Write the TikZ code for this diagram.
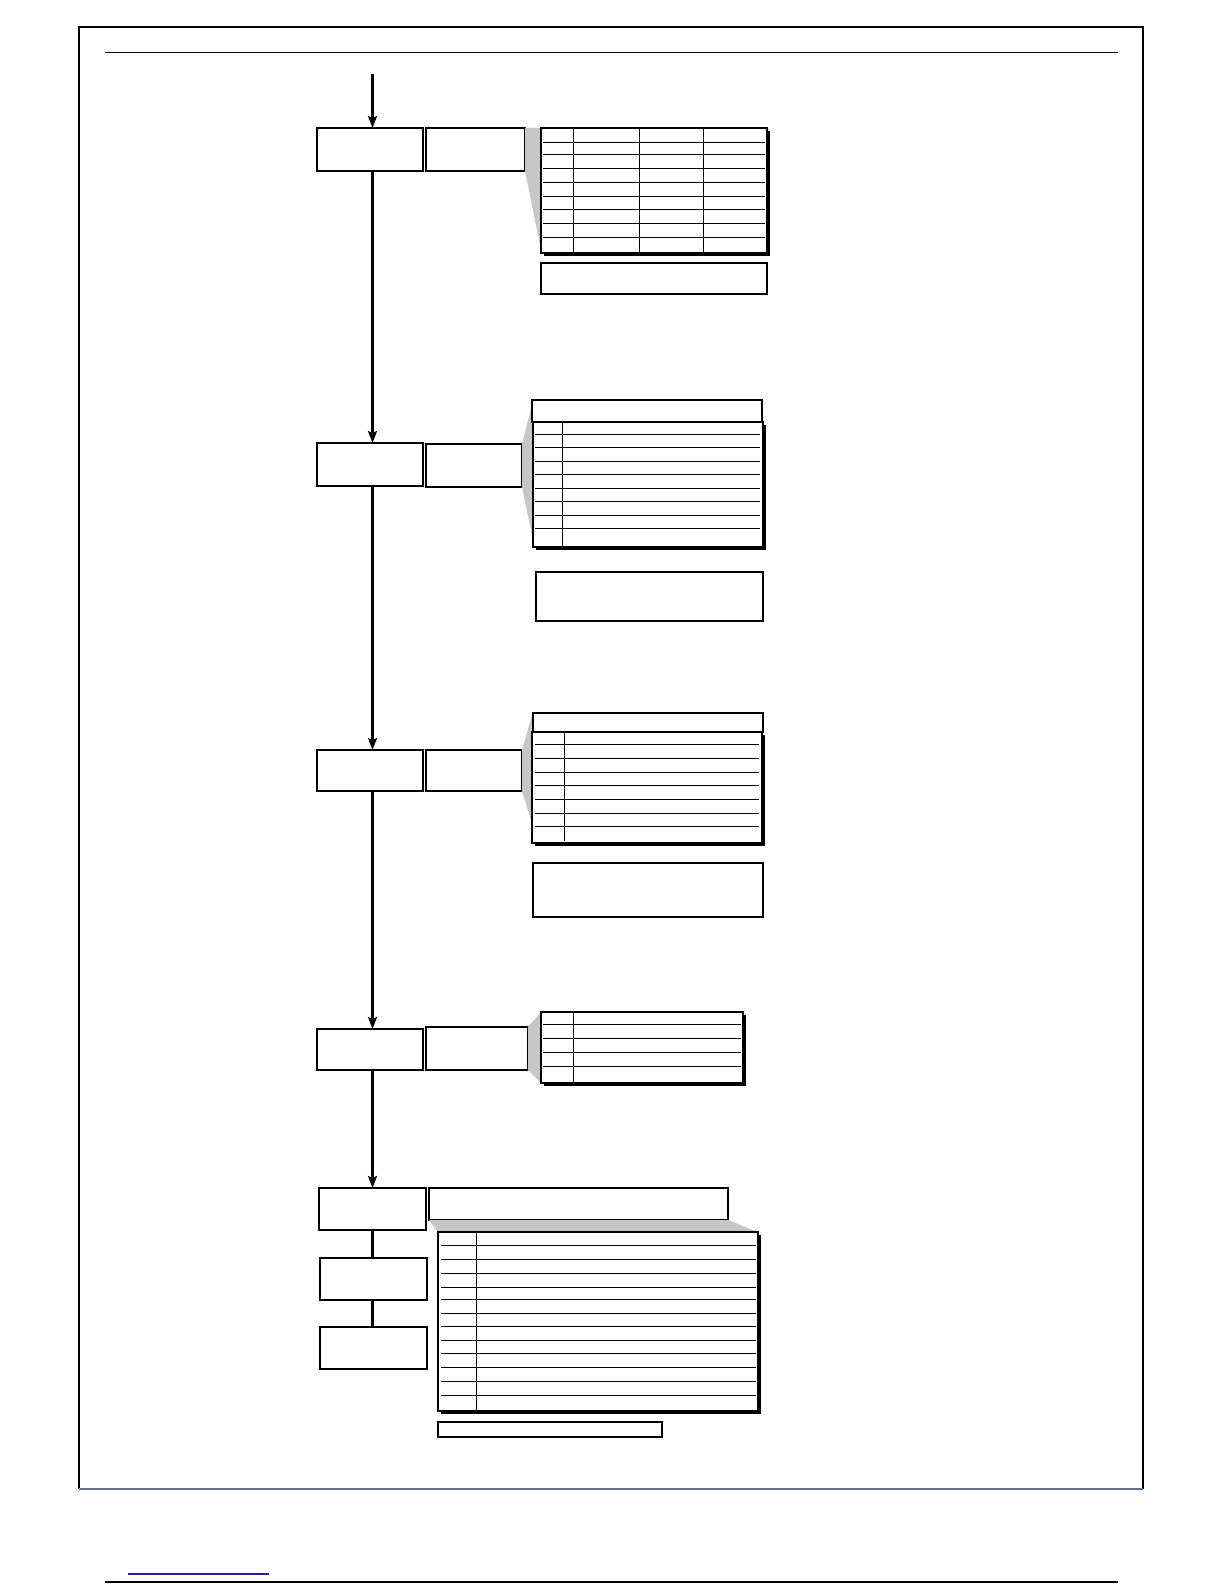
\documentclass[tikz,border=0pt]{standalone}
\usetikzlibrary{arrows.meta,shadows}
\definecolor{slate}{RGB}{100,112,135}
\definecolor{navy}{RGB}{30,30,140}

\begin{document}
\begin{tikzpicture}[x=1pt,y=-1pt,
                    stage/.style={draw,line width=1.1pt,inner sep=0pt,outer sep=0pt,anchor=north west,fill=white},
                    sheet/.style={stage,drop shadow={shadow xshift=3pt,shadow yshift=-3pt,fill=black,opacity=1}},
                    rule/.style={line width=1pt},
                    wedge/.style={fill=gray!45,draw=none},
                    flow/.style={line width=2.2pt,-{Stealth[length=12pt,width=9pt,inset=2pt]}}]
\useasboundingbox (0,0) rectangle (1224,1584);

% page frame
\draw[line width=2pt] (79,1489) -- (79,27) -- (1143,27) -- (1143,1489);
\draw[line width=1.5pt,slate] (79,1489) -- (1143,1489);
\draw[line width=1.2pt] (105,52.5) -- (1118,52.5);
\draw[line width=1.2pt] (105,1582) -- (1118,1582);
\draw[line width=1.5pt,navy] (128,1574) -- (269,1574);

% stage boxes
\coordinate (entry) at (372.5,74);
\node[stage,minimum width=106pt,minimum height=43pt] (s1) at (317,128) {};
\node[stage,minimum width=99pt,minimum height=43pt] (i1) at (426,128) {};
\node[stage,minimum width=106pt,minimum height=43pt] (s2) at (317,443) {};
\node[stage,minimum width=96pt,minimum height=43pt] (i2) at (426,444) {};
\node[stage,minimum width=106pt,minimum height=41pt] (s3) at (317,750) {};
\node[stage,minimum width=96pt,minimum height=41pt] (i3) at (426,750) {};
\node[stage,minimum width=106pt,minimum height=41pt] (s4) at (317,1029) {};
\node[stage,minimum width=102pt,minimum height=43pt] (i4) at (426,1027) {};
\node[stage,minimum width=107pt,minimum height=42pt] (s5) at (319,1188) {};
\node[stage,minimum width=299pt,minimum height=32pt] (i5) at (429,1188) {};
\node[stage,minimum width=107pt,minimum height=42pt] (s6) at (320,1258) {};
\node[stage,minimum width=107pt,minimum height=42pt] (s7) at (320,1327) {};

% grey wedges
\fill[wedge] (i1.north east) -- (541,128) -- (541,250) -- (i1.south east) -- cycle;
\fill[wedge] (i2.north east) -- (532,405) -- (533,540) -- (i2.south east) -- cycle;
\fill[wedge] (i3.north east) -- (532,715) -- (532,823) -- (i3.south east) -- cycle;
\fill[wedge] (i4.north east) -- (541,1012) -- (541,1083) -- (i4.south east) -- cycle;
\fill[wedge] (i5.south west) -- (i5.south east) -- (758,1232) -- (438,1232) -- cycle;

% table 1
\node[sheet,minimum width=226pt,minimum height=125pt] (t1) at (541,128) {};
\foreach \y in {142,154,168,182,196,209,223,237}
  \draw[rule] (543,\y) -- (765,\y);
\foreach \x in {573,639,703}
  \draw[rule] (\x,128) -- (\x,253);
\node[stage,minimum width=226pt,minimum height=31pt] (n1) at (541,263) {};

% table 2
\node[stage,minimum width=230pt,minimum height=22pt] (h2) at (532,400) {};
\node[sheet,minimum width=230pt,minimum height=125pt] (t2) at (533,422) {};
\foreach \y in {434,447,461,474,488,501,515,528}
  \draw[rule] (535,\y) -- (760,\y);
\draw[rule] (562,422) -- (562,547);
\node[stage,minimum width=227pt,minimum height=49pt] (n2) at (536,572) {};

% table 3
\node[stage,minimum width=230pt,minimum height=19pt] (h3) at (533,713) {};
\node[sheet,minimum width=230pt,minimum height=111pt] (t3) at (532,732) {};
\foreach \y in {744,758,772,785,799,813,826}
  \draw[rule] (535,\y) -- (759,\y);
\draw[rule] (564,732) -- (564,841);
\node[stage,minimum width=230pt,minimum height=54pt] (n3) at (533,863) {};

% table 4
\node[sheet,minimum width=202pt,minimum height=71pt] (t4) at (541,1012) {};
\foreach \y in {1024,1038,1052,1066}
  \draw[rule] (543,\y) -- (741,\y);
\draw[rule] (573,1012) -- (573,1083);

% table 5
\node[sheet,minimum width=320pt,minimum height=179pt] (t5) at (438,1232) {};
\foreach \y in {1245,1259,1273,1287,1299,1313,1326,1340,1353,1367,1381,1395}
  \draw[rule] (441,\y) -- (756,\y);
\draw[rule] (476,1232) -- (476,1411);
\node[stage,minimum width=224pt,minimum height=15pt] (n5) at (438,1422) {};

% flow
\draw[flow] (entry) -- (s1.north -| entry);
\draw[flow] (s1.south -| entry) -- (s2.north -| entry);
\draw[flow] (s2.south -| entry) -- (s3.north -| entry);
\draw[flow] (s3.south -| entry) -- (s4.north -| entry);
\draw[flow] (s4.south -| entry) -- (s5.north -| entry);
\draw[line width=2.2pt] (s5.south -| entry) -- (s6.north -| entry);
\draw[line width=2.2pt] (s6.south -| entry) -- (s7.north -| entry);
\end{tikzpicture}
\end{document}
